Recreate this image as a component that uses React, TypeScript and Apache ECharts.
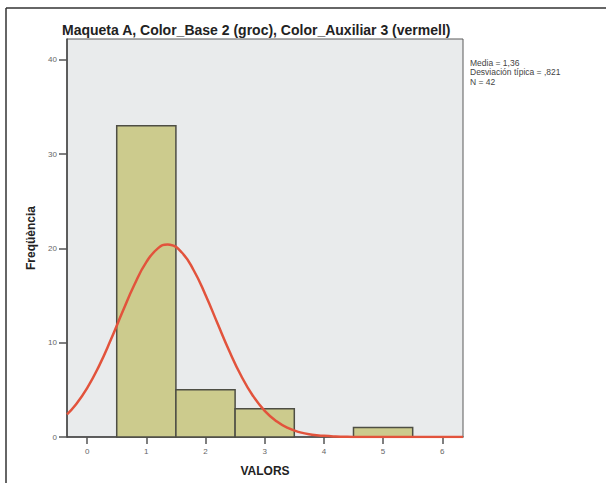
import React, { useEffect, useRef } from "react";
import * as echarts from "echarts";

const binStarts = [0.5, 1.5, 2.5, 3.5, 4.5];
const binEnds = [1.5, 2.5, 3.5, 4.5, 5.5];
const frequencies = [33, 5, 3, 0, 1];

const curveX = [-0.34, -0.2, 0, 0.2, 0.4, 0.6, 0.8, 1.0, 1.2, 1.36, 1.4, 1.6, 1.8, 2.0, 2.2, 2.4, 2.6, 2.8, 3.0, 3.2, 3.4, 3.6, 3.8, 4.0, 4.2, 4.4, 4.8, 5.2, 5.6, 6.0, 6.35];
const curveY = [2.4, 3.36, 5.18, 7.52, 10.3, 13.3, 16.17, 18.54, 20.03, 20.41, 20.39, 19.56, 17.68, 15.06, 12.09, 9.15, 6.52, 4.38, 2.78, 1.66, 0.93, 0.49, 0.25, 0.12, 0.05, 0.02, 0.0, 0.0, 0.0, 0.0, 0.0];

const xTicks = [0, 1, 2, 3, 4, 5, 6];
const yTicks = [0, 10, 20, 30, 40];

const titleText = "Maqueta A, Color_Base 2 (groc), Color_Auxiliar 3 (vermell)";
const statsLines = ["Media = 1,36", "Desviación típica = ,821", "N = 42"];

export default function App() {
  const ref = useRef<HTMLDivElement>(null);
  useEffect(() => {
    if (!ref.current) return;
    const chart = echarts.init(ref.current, undefined, { renderer: "svg" });
    const barData = binStarts.map((s, i) => [s, binEnds[i], frequencies[i]]);
    const font = "'Liberation Sans', Arial, sans-serif";
    chart.setOption({
      animation: false,
      backgroundColor: "#ffffff",
      textStyle: { fontFamily: font },
      title: {
        text: titleText,
        left: 57,
        top: 18,
        textStyle: { fontSize: 14, fontWeight: "bold", color: "#222", fontFamily: font },
      },
      grid: {
        left: 67,
        top: 39,
        right: 143,
        bottom: 46,
        show: true,
        backgroundColor: "#e9ebec",
        borderColor: "#5a5a5a",
        borderWidth: 1,
      },
      xAxis: {
        type: "value",
        min: -0.34,
        max: 6.35,
        name: "VALORS",
        nameLocation: "middle",
        nameGap: 28,
        nameTextStyle: { fontSize: 12, fontWeight: "bold", color: "#222" },
        axisLine: { show: true, onZero: false, lineStyle: { color: "#444", width: 1.5 } },
        axisTick: { show: true, customValues: xTicks, length: 7, lineStyle: { color: "#555", width: 1.5 } },
        axisLabel: { customValues: xTicks, fontSize: 8, color: "#666", margin: 10 },
        splitLine: { show: false },
      },
      yAxis: {
        type: "value",
        min: 0,
        max: 42.2,
        name: "Freqüència",
        nameLocation: "middle",
        nameGap: 29,
        nameRotate: 90,
        nameTextStyle: { fontSize: 12, fontWeight: "bold", color: "#222" },
        axisLine: { show: true, onZero: false, lineStyle: { color: "#444", width: 1.5 } },
        axisTick: { show: true, customValues: yTicks, length: 8, lineStyle: { color: "#555", width: 1.5 } },
        axisLabel: { customValues: yTicks, fontSize: 8, color: "#666", margin: 10 },
        splitLine: { show: false },
      },
      graphic: [
        { type: "line", shape: { x1: 6, y1: 8, x2: 606, y2: 8 }, style: { stroke: "#333", lineWidth: 1.5 } },
        { type: "line", shape: { x1: 6, y1: 8, x2: 6, y2: 483 }, style: { stroke: "#333", lineWidth: 1.5 } },
        {
          type: "text",
          left: 470,
          top: 58,
          style: {
            text: statsLines.join("\n"),
            fontSize: 8.5,
            lineHeight: 9.5,
            fill: "#444",
            fontFamily: font,
          },
        },
      ],
      series: [
        {
          type: "custom",
          data: barData,
          encode: { x: [0, 1], y: 2 },
          renderItem: (params: any, api: any) => {
            const v = api.value(2);
            if (!v) return null;
            const p0 = api.coord([api.value(0), v]);
            const p1 = api.coord([api.value(1), 0]);
            return {
              type: "rect",
              shape: { x: p0[0], y: p0[1], width: p1[0] - p0[0], height: p1[1] - p0[1] },
              style: { fill: "#cccb8d", stroke: "#4e4e44", lineWidth: 1.5 },
            };
          },
          z: 2,
        },
        {
          type: "line",
          data: curveX.map((x, i) => [x, curveY[i]]),
          smooth: true,
          showSymbol: false,
          lineStyle: { color: "#e2533c", width: 2.5 },
          z: 3,
        },
      ],
    });
    return () => chart.dispose();
  }, []);
  return (
    <div
      ref={ref}
      style={{ position: "absolute", left: 0, top: 0, width: 606, height: 483 }}
    />
  );
}
